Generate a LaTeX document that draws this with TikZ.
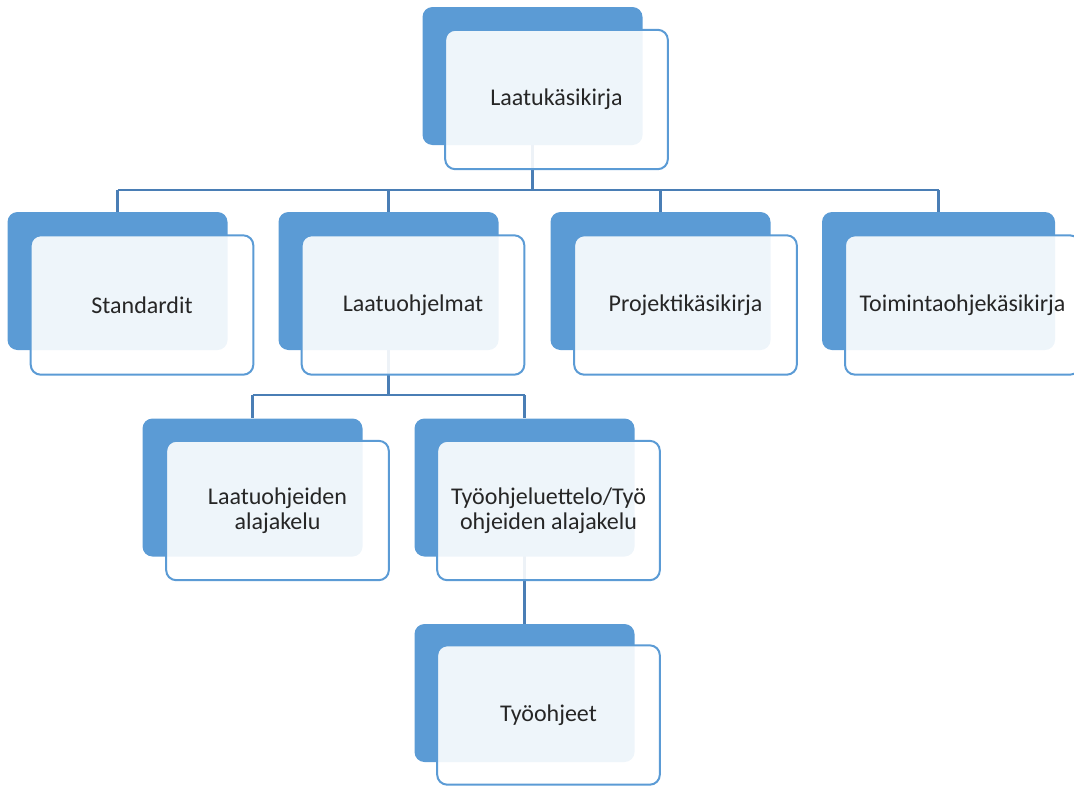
\documentclass[tikz,border=0pt]{standalone}
\usepackage{fontspec}
\setmainfont{Carlito}
\definecolor{accent}{HTML}{5B9BD5}
\definecolor{linec}{HTML}{4A7EB5}
\definecolor{txt}{HTML}{262626}
\pgfdeclarelayer{bg}
\pgfdeclarelayer{back}
\pgfsetlayers{bg,back,main}
\tikzset{
  backbox/.style={draw=none, fill=accent, rounded corners=7.5pt, minimum width=165pt, minimum height=103.5pt, inner sep=0pt},
  frontbox/.style={draw=accent, line width=1.5pt, fill=white, fill opacity=0.9, text opacity=1, rounded corners=7.5pt, minimum width=167pt, minimum height=104.5pt, inner sep=0pt, align=center, text=txt, font=\fontsize{18}{18.75}\selectfont},
  conn/.style={draw=linec, line width=2.2pt}
}
\begin{document}
\begin{tikzpicture}[x=0.75pt,y=-0.75pt]
\useasboundingbox (0,0) rectangle (1074,785);
% back boxes
\begin{pgfonlayer}{back}
\node[backbox] (b0) at (532.5,76) {};
\node[backbox] (b1) at (117.5,281) {};
\node[backbox] (b2) at (388.5,281) {};
\node[backbox] (b3) at (660.5,281) {};
\node[backbox, minimum width=174.75pt] (b4) at (938.5,281) {};
\node[backbox] (b5) at (252.5,487.5) {};
\node[backbox] (b6) at (524.5,487.5) {};
\node[backbox] (b7) at (524.5,693) {};
\end{pgfonlayer}
% front boxes
\node[frontbox] (f0) at (556.5,99.5) {Laatukäsikirja};
\node[frontbox] (f1) at (142,305) {Standardit};
\node[frontbox] (f2) at (413,305) {Laatuohjelmat};
\node[frontbox] (f3) at (685.5,305) {Projektikäsikirja};
\node[frontbox, minimum width=176.25pt] (f4) at (962.5,305) {Toimintaohjekäsikirja};
\node[frontbox] (f5) at (277.5,510.5) {Laatuohjeiden\\alajakelu};
\node[frontbox] (f6) at (548.5,510.5) {Työohjeluettelo/Työ\\ohjeiden alajakelu};
\node[frontbox] (f7) at (548.5,715) {Työohjeet};
% connectors
\begin{pgfonlayer}{bg}
\draw[conn] (b0.center) -- ++(0,114) coordinate (h0);
\draw[conn] (b1.center |- h0) -- (b4.center |- h0);
\foreach \n in {b1,b2,b3,b4} \draw[conn] (\n.center |- h0) -- (\n.north);
\draw[conn] (b2.center) -- ++(0,114) coordinate (h1);
\draw[conn] (b5.center |- h1) -- (b6.center |- h1);
\foreach \n in {b5,b6} \draw[conn] (\n.center |- h1) -- (\n.north);
\draw[conn] (b6.center) -- (b7.north);
\end{pgfonlayer}
\end{tikzpicture}
\end{document}
